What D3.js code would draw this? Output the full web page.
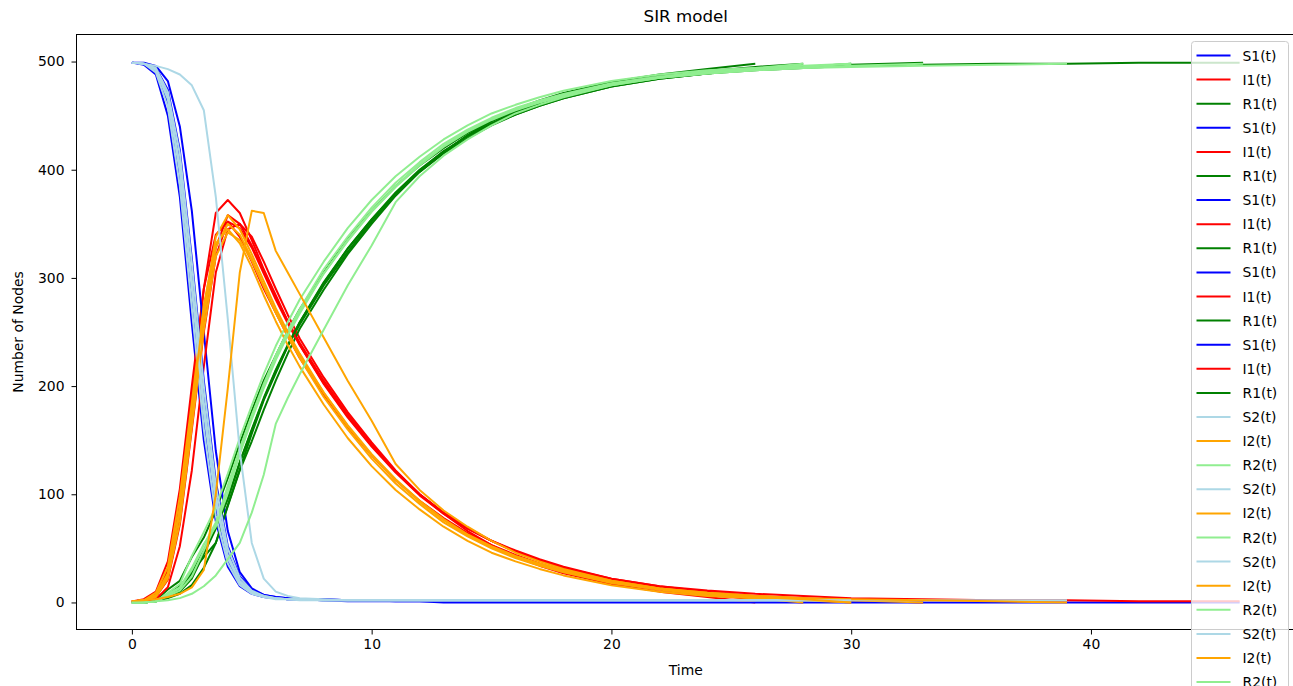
<!DOCTYPE html>
<html><head><meta charset="utf-8">
<script src="https://cdn.jsdelivr.net/npm/d3@7"></script>
<style>body{margin:0;background:#fff;overflow:hidden} svg{display:block} text{font-family:"DejaVu Sans",sans-serif;fill:#000}</style>
</head><body><svg id="c" width="1293" height="686"></svg>
<script>
// time grid shared by every run (a run stops where its arrays stop)
const timeGrid = [0,0.5,1,1.5,2,2.5,3,3.5,4,4.5,5,5.5,6,6.5,7,8,9,10,11,12,13,14,15,16,17,18,20,22,24,26,28,30,33,36,39,42,46.2];

// model 1 runs (S1, I1, R1)
const runsS1 = [
  [499,497,488,450,375,258,150,75,33,15,8,5,4,3,3,3,2,2,2,2,2,2,2,2,2,2,2,2,2,2,2],
  [499,498,491,462,392,282,168,85,38,17,9,5,4,3,3,2,2,2,1,1,1,1,1,1,1,1,1,1,1,1,1,1,1],
  [499,498,493,470,408,305,192,102,46,21,11,6,4,3,3,2,2,2,2,2,2,2,2,2,2,2,2,2,2,2,2,2],
  [499,499,496,482,440,362,250,140,66,28,13,7,5,4,3,3,2,2,2,2,2,2,2,2,2,2,2,2,2,2],
  [499,498,494,474,418,318,205,112,52,24,12,7,5,4,3,2,1,1,1,1,0,0,0,0,0,0,0,0,0,0,0,0,0,0,0,0,0]
];
const runsI1 = [
  [1,3,10,38,105,200,290,340,352,338,315,290,268,246,226,192,162,136,113,94,78,64,53,44,36,29,19,12,7,3,0],
  [1,2,8,30,93,190,290,360,372,360,335,308,284,260,238,202,171,144,120,99,82,68,57,48,40,33,22,15,10,6,4,2,0],
  [1,2,6,24,80,168,260,328,358,350,330,306,282,260,240,205,174,146,121,100,83,69,57,47,39,32,21,14,9,5,3,0],
  [1,1,3,14,52,122,218,305,345,350,338,315,290,266,244,208,176,148,122,100,82,66,53,42,34,27,17,10,5,0],
  [1,2,5,21,72,160,250,320,352,346,328,304,280,258,238,203,172,145,121,100,83,69,57,47,39,32,22,15,11,8,6,4,3,2,2,1,1]
];
const runsR1 = [
  [0,0,2,12,20,42,60,85,115,147,177,205,228,251,271,305,336,362,385,404,420,434,445,454,462,469,479,486,491,495,498],
  [0,0,1,8,15,28,42,55,90,123,156,187,212,237,259,296,327,354,379,400,417,431,442,451,459,466,477,484,489,493,495,497,499],
  [0,0,1,6,12,27,48,70,96,129,159,188,214,237,257,293,324,352,377,398,415,429,441,451,459,466,477,484,489,493,495,498],
  [0,0,1,4,8,16,32,55,89,122,149,178,205,230,253,289,322,350,376,398,416,432,445,456,464,471,481,488,493,498],
  [0,0,1,5,10,22,45,68,96,130,160,189,215,238,259,295,327,354,378,399,417,431,443,453,461,468,478,485,489,492,494,496,497,498,498,499,499]
];

// model 2 runs (S2, I2, R2)
const runsS2 = [
  [499,498,490,458,385,272,160,80,36,16,8,5,3,3,2,2,2,2,2,2,2,2,2,2,2,2,2,2,2,2,2,2],
  [499,498,493,468,404,298,185,98,44,20,10,6,4,3,3,2,2,2,2,2,2,2,2,2,2,2,2,2,2,2,2],
  [499,498,494,472,415,314,200,108,50,23,11,6,4,3,3,2,2,2,2,2,2,2,2,2,2,2,2,2,2,2,2,2,2],
  [499,498,492,465,398,290,176,92,41,18,9,5,4,3,3,2,2,2,2,2,2,2,2,2,2,2,2,2,2,2,2,2,2,2,2],
  [499,498,496,493,488,478,455,375,262,140,55,22,10,6,4,3,2,2,2,2,2,2,2,2,2,2,2,2,2,2,2,2]
];
const runsI2 = [
  [1,2,9,33,98,185,275,332,345,332,310,284,260,238,218,183,152,126,104,86,70,57,46,38,31,25,16,10,6,4,2,0],
  [1,2,6,25,83,172,262,328,350,340,318,293,268,246,226,190,160,133,110,91,74,61,50,41,34,28,18,12,7,4,0],
  [1,2,5,22,74,162,252,320,342,335,316,292,268,247,228,194,164,137,114,94,77,63,52,43,36,30,20,13,9,6,4,2,0],
  [1,2,7,27,88,178,270,338,358,345,322,297,272,250,230,194,163,136,113,93,76,62,51,42,35,29,19,13,9,6,4,3,2,1,0],
  [1,2,3,5,8,14,30,100,198,305,362,360,325,305,285,245,205,168,128,104,85,70,57,46,38,31,20,13,8,5,3,0]
];
const runsR2 = [
  [0,0,1,9,17,43,65,88,119,152,182,211,237,259,280,315,346,372,394,412,428,441,452,460,467,473,482,488,492,494,496,498],
  [0,0,1,7,13,30,53,74,106,140,172,201,228,251,271,308,338,365,388,407,424,437,448,457,464,470,480,486,491,494,498],
  [0,0,1,6,11,24,48,72,108,142,173,202,228,250,269,304,334,361,384,404,421,435,446,455,462,468,478,485,489,492,494,496,498],
  [0,0,1,8,14,32,54,70,101,137,169,198,224,247,267,304,335,362,385,405,422,436,447,456,463,469,479,485,489,492,494,495,496,497,498],
  [0,0,1,2,4,8,15,25,40,55,83,118,165,189,211,252,293,330,370,394,413,428,441,452,460,467,478,485,490,493,495,498]
];

const xTicks = [0,10,20,30,40];
const yTicks = [0,100,200,300,400,500];
const names1 = ["S1(t)","I1(t)","R1(t)"];
const names2 = ["S2(t)","I2(t)","R2(t)"];
const colors1 = ["blue","red","green"];
const colors2 = ["lightblue","orange","lightgreen"];
const titleText = "SIR model", xLabel = "Time", yLabel = "Number of Nodes";

// build series list in plotting order
const series = [];
for (let r = 0; r < 5; r++) {
  [runsS1, runsI1, runsR1].forEach((arr, k) => series.push({name: names1[k], color: colors1[k], values: arr[r]}));
}
for (let r = 0; r < 5; r++) {
  [runsS2, runsI2, runsR2].forEach((arr, k) => series.push({name: names2[k], color: colors2[k], values: arr[r]}));
}

const svg = d3.select("#c");
const L = 76.5, R = 1295, T = 34.5, B = 629.5;
const tMax = timeGrid[timeGrid.length - 1];
const x = d3.scaleLinear().domain([-0.05 * tMax, tMax * 1.05]).range([L, R]);
const y = d3.scaleLinear().domain([-25, 525]).range([B, T]);

const line = d3.line().x((d, i) => x(timeGrid[i])).y(d => y(d));
const plot = svg.append("g");
series.forEach(s => {
  plot.append("path").attr("d", line(s.values)).attr("fill", "none")
    .attr("stroke", s.color).attr("stroke-width", 2).attr("stroke-linejoin", "round");
});

// axes
const gx = svg.append("g").attr("transform", `translate(0,${B})`)
  .call(d3.axisBottom(x).tickValues(xTicks).tickFormat(d3.format("d")).tickSize(5).tickPadding(5));
const gy = svg.append("g").attr("transform", `translate(${L},0)`)
  .call(d3.axisLeft(y).tickValues(yTicks).tickFormat(d3.format("d")).tickSize(5).tickPadding(7));
[gx, gy].forEach(g => {
  g.select(".domain").remove();
  g.selectAll("text").attr("font-size", "13.9px").attr("font-family", "DejaVu Sans").attr("fill", "#000");
  g.selectAll("line").attr("stroke", "#000").attr("stroke-width", 1);
});
svg.append("rect").attr("x", L).attr("y", T).attr("width", R - L).attr("height", B - T)
  .attr("fill", "none").attr("stroke", "#000").attr("stroke-width", 1);

// labels
svg.append("text").attr("x", (L + R) / 2).attr("y", 22).attr("text-anchor", "middle")
  .attr("font-size", "16.7px").text(titleText);
svg.append("text").attr("x", (L + R) / 2).attr("y", 675).attr("text-anchor", "middle")
  .attr("font-size", "13.9px").text(xLabel);
svg.append("text").attr("transform", `translate(23,${(T + B) / 2}) rotate(-90)`).attr("text-anchor", "middle")
  .attr("font-size", "13.9px").text(yLabel);

// legend
const lg = svg.append("g").attr("transform", "translate(1191.5,41.5)");
const step = 24.1;
lg.append("rect").attr("width", 97).attr("height", 14 + series.length * step).attr("rx", 3)
  .attr("fill", "#fff").attr("fill-opacity", 0.8).attr("stroke", "#cccccc").attr("stroke-width", 1);
series.forEach((s, i) => {
  const yy = 14 + i * step;
  lg.append("line").attr("x1", 5).attr("x2", 39).attr("y1", yy).attr("y2", yy)
    .attr("stroke", s.color).attr("stroke-width", 2);
  lg.append("text").attr("x", 51).attr("y", yy).attr("dy", "0.36em").attr("font-size", "13.9px").text(s.name);
});
</script></body></html>
